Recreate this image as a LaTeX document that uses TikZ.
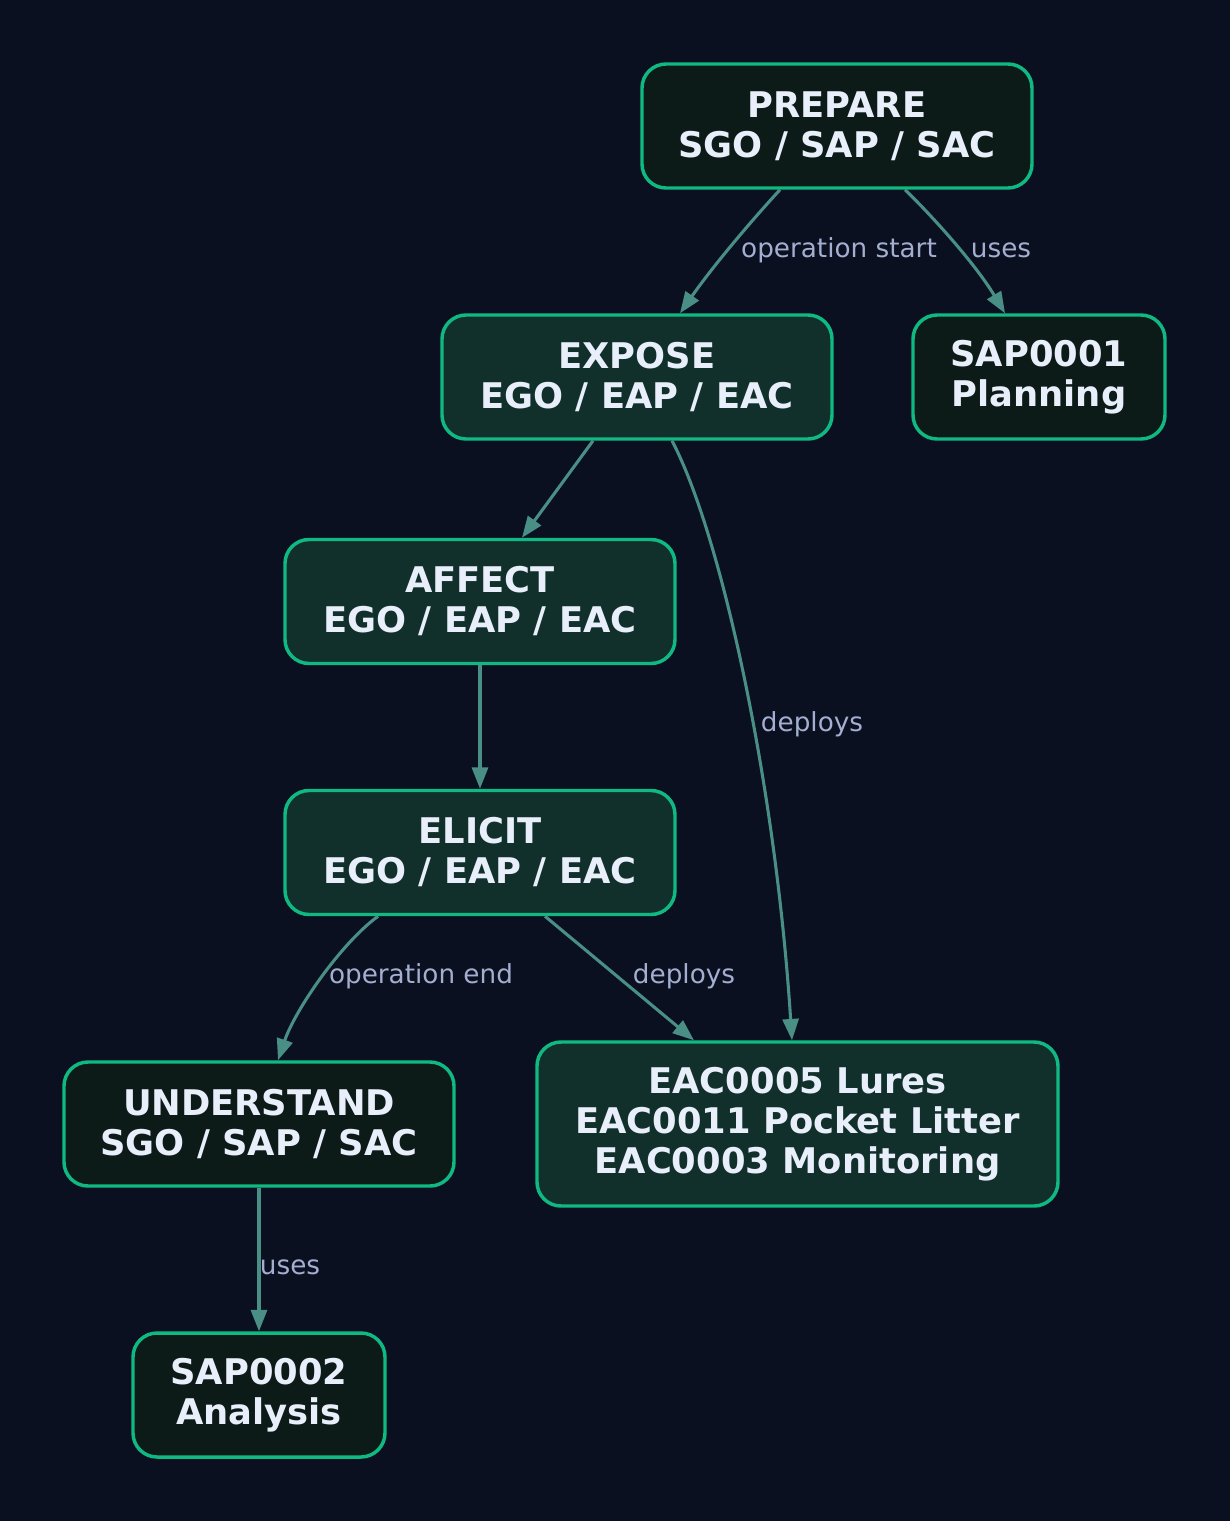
\documentclass[tikz,border=0pt]{standalone}
\usepackage{fontspec}
\setmainfont{DejaVu Sans}
\usetikzlibrary{arrows.meta,calc}
\definecolor{bgc}{HTML}{0A1020}
\definecolor{filldark}{HTML}{0C1A18}
\definecolor{fillmid}{HTML}{12302B}
\definecolor{bordc}{HTML}{10B981}
\definecolor{edgec}{HTML}{4A8F86}
\definecolor{labc}{HTML}{A3AED0}
\definecolor{txtc}{HTML}{E8EFFA}
\tikzset{
  box/.style={draw=bordc, line width=2.6pt, rounded corners=18pt, align=center,
    text=txtc, font=\bfseries\fontsize{26.5}{30}\selectfont, inner sep=0pt,
    minimum height=93pt},
  wbox/.style={box, minimum width=292.5pt},
  nbox/.style={box, minimum width=189pt},
  dk/.style={fill=filldark},
  md/.style={fill=fillmid},
  conn/.style={draw=edgec, line width=2.3pt, -{Triangle[length=16pt,width=12pt]}},
  elab/.style={text=labc, font=\fontsize{19.7}{23}\selectfont, inner sep=0pt}
}
\begin{document}
\begin{tikzpicture}[x=0.75pt,y=-0.75pt]
\fill[bgc] (0,0) rectangle (1230,1521);
\useasboundingbox (0,0) rectangle (1230,1521);

\node[wbox,dk] (prep) at (837,126) {PREPARE\\SGO / SAP / SAC};
\node[wbox,md] (expo) at (637,377) {EXPOSE\\EGO / EAP / EAC};
\node[nbox,dk] (sap1) at (1039,377) {SAP0001\\Planning};
\node[wbox,md] (affe) at (480,601.5) {AFFECT\\EGO / EAP / EAC};
\node[wbox,md] (elic) at (480,852.5) {ELICIT\\EGO / EAP / EAC};
\node[wbox,dk] (unde) at (259,1124) {UNDERSTAND\\SGO / SAP / SAC};
\node[box,md,minimum width=390.75pt,minimum height=123pt] (eac) at (797.5,1124) {EAC0005 Lures\\EAC0011 Pocket Litter\\EAC0003 Monitoring};
\node[nbox,dk] (sap2) at (259,1395) {SAP0002\\Analysis};

\draw[conn] ($(prep.south)+(-57,0)$) .. controls ($(prep.south)+(-82,27)$) and ($(expo.north)+(78,-50)$) .. ($(expo.north)+(43,0)$);
\node[elab] (l1) at (839,250) {operation start};

\draw[conn] ($(prep.south)+(68,0)$) .. controls ($(prep.south)+(93,24)$) and ($(sap1.north)+(-64,-50)$) .. ($(sap1.north)+(-34,0)$);
\node[elab] (l2) at (1001,250) {uses};

\draw[conn] ($(expo.south)+(-44,0)$) -- ($(affe.north)+(42,0)$);

\draw[conn] ($(expo.south)+(35,0)$) .. controls ($(expo.south)+(83,91)$) and ($(eac.north)+(-22.5,-262)$) .. ($(eac.north)+(-5.5,0)$);
\node[elab] (l3) at (812,724) {deploys};

\draw[conn] (affe.south) -- (elic.north);

\draw[conn] ($(elic.south)+(-102,0)$) .. controls ($(elic.south)+(-140,28)$) and ($(unde.north)+(36,-50)$) .. ($(unde.north)+(19,0)$);
\node[elab] (l4) at (421,976) {operation end};

\draw[conn] ($(elic.south)+(65,0)$) -- ($(eac.north)+(-103.5,0)$);
\node[elab] (l5) at (684,976) {deploys};

\draw[conn] (unde.south) -- (sap2.north);
\node[elab] (l6) at (290,1267) {uses};
\end{tikzpicture}
\end{document}
